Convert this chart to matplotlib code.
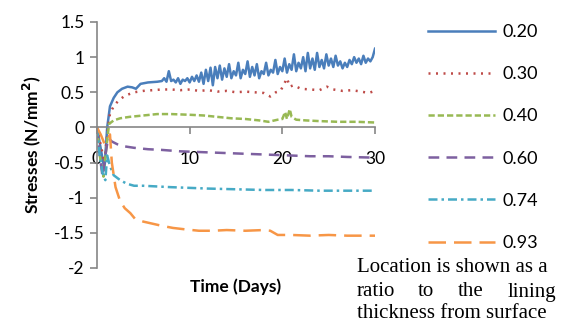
import numpy as np
import matplotlib
matplotlib.use('Agg')
import matplotlib.pyplot as plt

plt.rcParams['font.family'] = ['Lato', 'DejaVu Sans']
plt.rcParams['axes.unicode_minus'] = False

# ---------------- data ----------------
labels = ['0.20', '0.30', '0.40', '0.60', '0.74', '0.93']

t_020 = [0, 0.4, 0.8, 1.1, 1.4, 1.8, 2.2, 2.7, 3.3, 3.8, 4.2, 4.7, 5.5, 6.5] + list(np.arange(7, 30.01, 0.25))
s_020 = [0, -0.3, -0.6, 0.0, 0.3, 0.42, 0.5, 0.55, 0.58, 0.57, 0.55, 0.62, 0.64, 0.65,
         0.66, 0.70, 0.65, 0.80, 0.66, 0.68, 0.64, 0.70, 0.62,
         0.68, 0.66, 0.70, 0.64, 0.72, 0.66, 0.74, 0.65,
         0.78, 0.62, 0.82, 0.66, 0.85, 0.60, 0.86, 0.70,
         0.88, 0.68, 0.84, 0.72, 0.90, 0.70, 0.80, 0.74,
         0.92, 0.70, 0.82, 0.76, 0.94, 0.72, 0.86, 0.74,
         0.90, 0.70, 0.80, 0.76, 0.92, 0.74, 0.82, 0.78,
         0.96, 0.76, 0.86, 0.80, 0.98, 0.78, 0.90, 0.82,
         1.04, 0.80, 0.92, 0.84, 1.00, 0.80, 1.06, 0.84,
         0.98, 0.82, 1.06, 0.86, 0.96, 0.84, 1.04, 0.88,
         0.98, 0.86, 1.02, 0.88, 0.94, 0.84, 0.92, 0.86,
         0.96, 0.90, 1.00, 0.92, 0.98, 0.90, 1.02, 0.92,
         0.98, 0.94, 1.00, 1.12]

t_030 = [0, 0.4, 0.8, 1.1, 1.4, 1.8, 2.3, 3, 4, 5, 6, 7, 8, 9, 10, 11, 12, 13, 14, 15,
         16, 17, 18, 18.7, 19.3, 19.8, 20.2, 20.5, 20.8, 21.2, 22, 23, 24, 24.8, 25.5,
         26.5, 27.5, 28.5, 29.3, 30]
s_030 = [0, -0.25, -0.5, -0.1, 0.2, 0.3, 0.38, 0.45, 0.5, 0.52, 0.53, 0.54, 0.54, 0.53,
         0.54, 0.52, 0.53, 0.51, 0.52, 0.50, 0.51, 0.50, 0.49, 0.44, 0.50, 0.52, 0.62,
         0.70, 0.58, 0.60, 0.55, 0.54, 0.53, 0.58, 0.54, 0.52, 0.53, 0.51, 0.49, 0.52]

t_040 = [0, 0.3, 0.7, 1.0, 1.3, 1.8, 2.5, 3.5, 5, 6.5, 8, 10, 11.5, 13, 14.5, 16, 17.5,
         18.5, 19.5, 20.0, 20.3, 20.5, 20.8, 21.0, 21.5, 22.5, 24, 26, 28, 30]
s_040 = [0, -0.4, -0.7, -0.3, 0.05, 0.1, 0.13, 0.15, 0.17, 0.19, 0.19, 0.18, 0.17, 0.15,
         0.13, 0.12, 0.10, 0.08, 0.11, 0.12, 0.22, 0.12, 0.26, 0.15, 0.11, 0.10, 0.09,
         0.08, 0.08, 0.07]

t_060 = [0, 0.3, 0.6, 0.9, 1.2, 1.6, 2.2, 3, 4, 5.5, 7, 9, 11, 13, 15, 17, 19, 21, 23, 25, 27, 30]
s_060 = [0, -0.4, -0.7, -0.4, -0.15, -0.2, -0.24, -0.27, -0.29, -0.31, -0.32, -0.34,
         -0.35, -0.36, -0.37, -0.38, -0.39, -0.40, -0.41, -0.41, -0.42, -0.43]

t_074 = [0, 0.3, 0.6, 0.9, 1.1, 1.4, 1.8, 2.5, 3.2, 4, 5, 6.5, 8, 10, 12, 15, 18, 21, 24, 27, 30]
s_074 = [0, -0.4, -0.65, -0.75, -0.4, -0.55, -0.68, -0.75, -0.8, -0.83, -0.83, -0.84,
         -0.85, -0.86, -0.87, -0.88, -0.89, -0.89, -0.9, -0.9, -0.9]

t_093 = [0, 0.4, 0.8, 1.1, 1.4, 1.6, 2.0, 2.5, 3.0, 3.6, 4.1, 5, 6, 7, 8.2, 9.5, 11,
         12.5, 14, 16, 18, 18.7, 19.5, 21, 23, 25, 27, 30]
s_093 = [0, -0.1, -0.23, -0.2, -0.1, -0.5, -0.85, -1.05, -1.15, -1.22, -1.3, -1.34,
         -1.37, -1.4, -1.43, -1.45, -1.47, -1.47, -1.46, -1.47, -1.46, -1.47, -1.53,
         -1.53, -1.54, -1.53, -1.54, -1.54]

x_ticks = [0, 10, 20, 30]
y_ticks = [1.5, 1, 0.5, 0, -0.5, -1, -1.5, -2]

# ---------------- figure ----------------
fig = plt.figure(figsize=(5.66, 3.22), dpi=100)
ax = fig.add_axes([97/566, 1 - 268/322, (375 - 97)/566, (268 - 22)/322])

ax.plot(t_020, s_020, color='#4A7EBB', lw=1.8, label=labels[0])
ax.plot(t_030, s_030, color='#BE4B48', lw=1.8, linestyle=(0, (0.8, 2.2)), label=labels[1])
ax.plot(t_040, s_040, color='#98B954', lw=1.8, linestyle=(0, (2.5, 1.2)), label=labels[2])
ax.plot(t_060, s_060, color='#7D60A0', lw=1.8, linestyle=(0, (4.3, 2.9)), label=labels[3])
ax.plot(t_074, s_074, color='#46AAC5', lw=1.8, linestyle=(0, (3.6, 1.6, 1, 1.6)), label=labels[4])
ax.plot(t_093, s_093, color='#F79646', lw=1.8, linestyle=(0, (7, 3.2)), label=labels[5])

ax.set_xlim(0, 30)
ax.set_ylim(-2, 1.5)
ax.set_xticks(x_ticks)
ax.set_yticks(y_ticks)
ax.set_yticklabels(['{:g}'.format(v) for v in y_ticks])

for s in ['top', 'right']:
    ax.spines[s].set_visible(False)
ax.spines['bottom'].set_position(('data', 0))
for s in ['left', 'bottom']:
    ax.spines[s].set_color('#868686')
    ax.spines[s].set_linewidth(1.2)
ax.tick_params(axis='both', colors='#868686', labelcolor='black', labelsize=12.5, length=5, width=1.2)
ax.tick_params(axis='x', pad=12)
ax.tick_params(axis='y', pad=4)

ax.set_ylabel('Stresses (N/mm$^\\mathbf{2}$)', fontsize=12.5, fontweight='bold', labelpad=8)
fig.text(236/566, 1 - 287/322, 'Time (Days)', fontsize=12.5, fontweight='bold',
         ha='center', va='center')

fig.legend(loc='upper left', bbox_to_anchor=(428/566, 1 - 24/322), frameon=False,
           fontsize=13, handlelength=3.7, handletextpad=0.45, labelspacing=1.45,
           borderpad=0, borderaxespad=0)

# note under the legend
serif = ['Liberation Serif', 'DejaVu Serif']
fs = 15
fig.text(357/566, 1 - 267/322, 'Location is shown as a', family=serif, fontsize=fs, va='center', ha='left')
y2 = 1 - 292/322
fig.text(357/566, y2, 'ratio', family=serif, fontsize=fs, va='center', ha='left')
fig.text(418/566, y2, 'to', family=serif, fontsize=fs, va='center', ha='left')
fig.text(458/566, y2, 'the', family=serif, fontsize=fs, va='center', ha='left')
fig.text(556/566, y2, 'lining', family=serif, fontsize=fs, va='center', ha='right')
fig.text(357/566, 1 - 314/322, 'thickness from surface', family=serif, fontsize=fs, va='center', ha='left')

fig.savefig('out.png', dpi=100)
